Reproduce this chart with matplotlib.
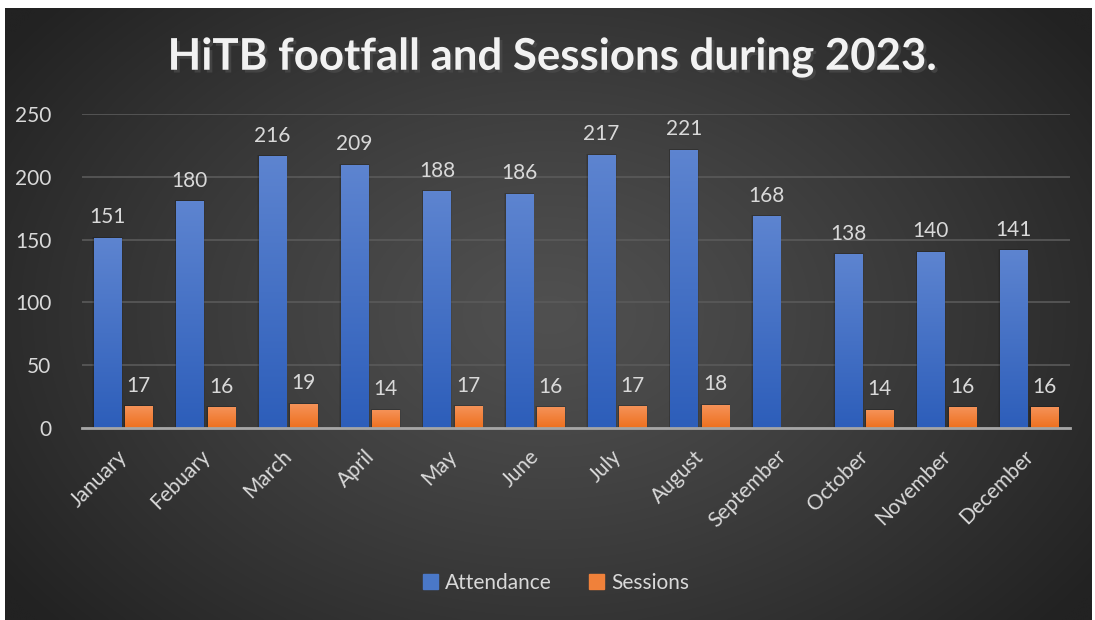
import numpy as np
import matplotlib
matplotlib.use("Agg")
import matplotlib.pyplot as plt
import matplotlib.patheffects as pe
import matplotlib.transforms as mtransforms
from matplotlib.patches import Patch

# data
months = ["January", "Febuary", "March", "April", "May", "June", "July",
          "August", "September", "October", "November", "December"]
attendance = [151, 180, 216, 209, 188, 186, 217, 221, 168, 138, 140, 141]
sessions = [17, 16, 19, 14, 17, 16, 17, 18, np.nan, 14, 16, 16]

plt.rcParams["font.family"] = ["Lato", "DejaVu Sans"]
txt = "#d9d9d9"
fs = 15

W, H = 1095, 620
fig = plt.figure(figsize=(W / 100, H / 100), dpi=100, facecolor="white")

# radial grey background panel
bg = fig.add_axes([0, 0, 1, 1])
bg.set_xlim(0, W)
bg.set_ylim(H, 0)
bg.axis("off")
yy, xx = np.mgrid[0:300, 0:540]
r = np.sqrt(((xx - 270) / 330) ** 2 + ((yy - 150) / 230) ** 2)
r = np.clip(r, 0, 1)
c0, c1 = np.array([0x50, 0x50, 0x50]) / 255, np.array([0x22, 0x22, 0x22]) / 255
img = c0 + (c1 - c0) * r[..., None] ** 1.2
bg.imshow(img, extent=(5, 1092, 620, 8), aspect="auto", interpolation="bicubic")

ax = fig.add_axes([82 / W, 1 - 428 / H, (1070 - 82) / W, (428 - 114) / H])
ax.set_facecolor("none")

x = np.arange(len(months))
bw = 0.33
b1 = ax.bar(x - 0.19, attendance, bw, color="#4472c4", zorder=3)
b2 = ax.bar(x + 0.19, sessions, bw, color="#ed7d31", zorder=3)


def grad_fill(bars, top, bottom):
    g = np.linspace(0, 1, 64)[:, None, None]
    cimg = np.array(top) / 255 * (1 - g) + np.array(bottom) / 255 * g
    for p in bars:
        h = p.get_height()
        if not np.isfinite(h) or h <= 0:
            continue
        x0 = p.get_x()
        p.set_visible(False)
        # soft shadow
        for k, a in [(0.035, 0.08), (0.02, 0.12)]:
            ax.add_patch(plt.Rectangle((x0 - k / 2, 0), p.get_width() + k, h + 1.2,
                                       color="black", alpha=a, zorder=2, lw=0))
        ax.imshow(cimg, extent=(x0, x0 + p.get_width(), 0, h), aspect="auto",
                  zorder=3, interpolation="bilinear")


grad_fill(b1, (0x5d, 0x84, 0xd0), (0x2d, 0x5e, 0xba))
grad_fill(b2, (0xf5, 0x92, 0x58), (0xee, 0x70, 0x1e))
ax.set_xlim(-0.5, len(months) - 0.5)
ax.set_ylim(0, 250)
ax.set_aspect("auto")

for xi, v in zip(x, attendance):
    ax.annotate(f"{v}", (xi - 0.19, v), xytext=(0, 8), textcoords="offset points",
                ha="center", va="bottom", color=txt, fontsize=fs, zorder=5)
for xi, v in zip(x, sessions):
    if np.isfinite(v):
        ax.annotate(f"{int(v)}", (xi + 0.19, v), xytext=(0, 8), textcoords="offset points",
                    ha="center", va="bottom", color=txt, fontsize=fs, zorder=5)

ax.set_yticks(np.arange(0, 251, 50))
ax.grid(axis="y", color="#5a5a5a", lw=1.2, zorder=0)
ax.tick_params(axis="y", length=0, labelsize=fs, labelcolor=txt, pad=22)
ax.set_xticks(x)
ax.set_xticklabels(months, rotation=45, ha="right", va="top",
                   rotation_mode="anchor", color=txt, fontsize=fs)
ax.tick_params(axis="x", length=0, pad=9)
shift = mtransforms.ScaledTranslation(-6 / 100, -6 / 100, fig.dpi_scale_trans)
for lab in ax.get_xticklabels():
    lab.set_transform(lab.get_transform() + shift)
for s in ["top", "right", "left"]:
    ax.spines[s].set_visible(False)
ax.spines["bottom"].set_color("#a6a6a6")
ax.spines["bottom"].set_linewidth(2)
ax.spines["bottom"].set_zorder(4)

fig.text(0.504, 1 - 57 / H, "HiTB footfall and Sessions during 2023.", ha="center",
         va="center", color="#f2f2f2", fontsize=31.5, fontweight="bold",
         path_effects=[pe.withSimplePatchShadow(offset=(2, -2), alpha=0.8)])

handles = [Patch(color="#4a78c8", label="Attendance"),
           Patch(color="#f0813a", label="Sessions")]
fig.legend(handles=handles, loc="center", bbox_to_anchor=(0.508, 1 - 583 / H),
           ncol=2, frameon=False, fontsize=fs, labelcolor=txt,
           handlelength=0.7, handleheight=0.7, handletextpad=0.35,
           columnspacing=1.8)

fig.savefig("out.png", dpi=100, facecolor="white")
